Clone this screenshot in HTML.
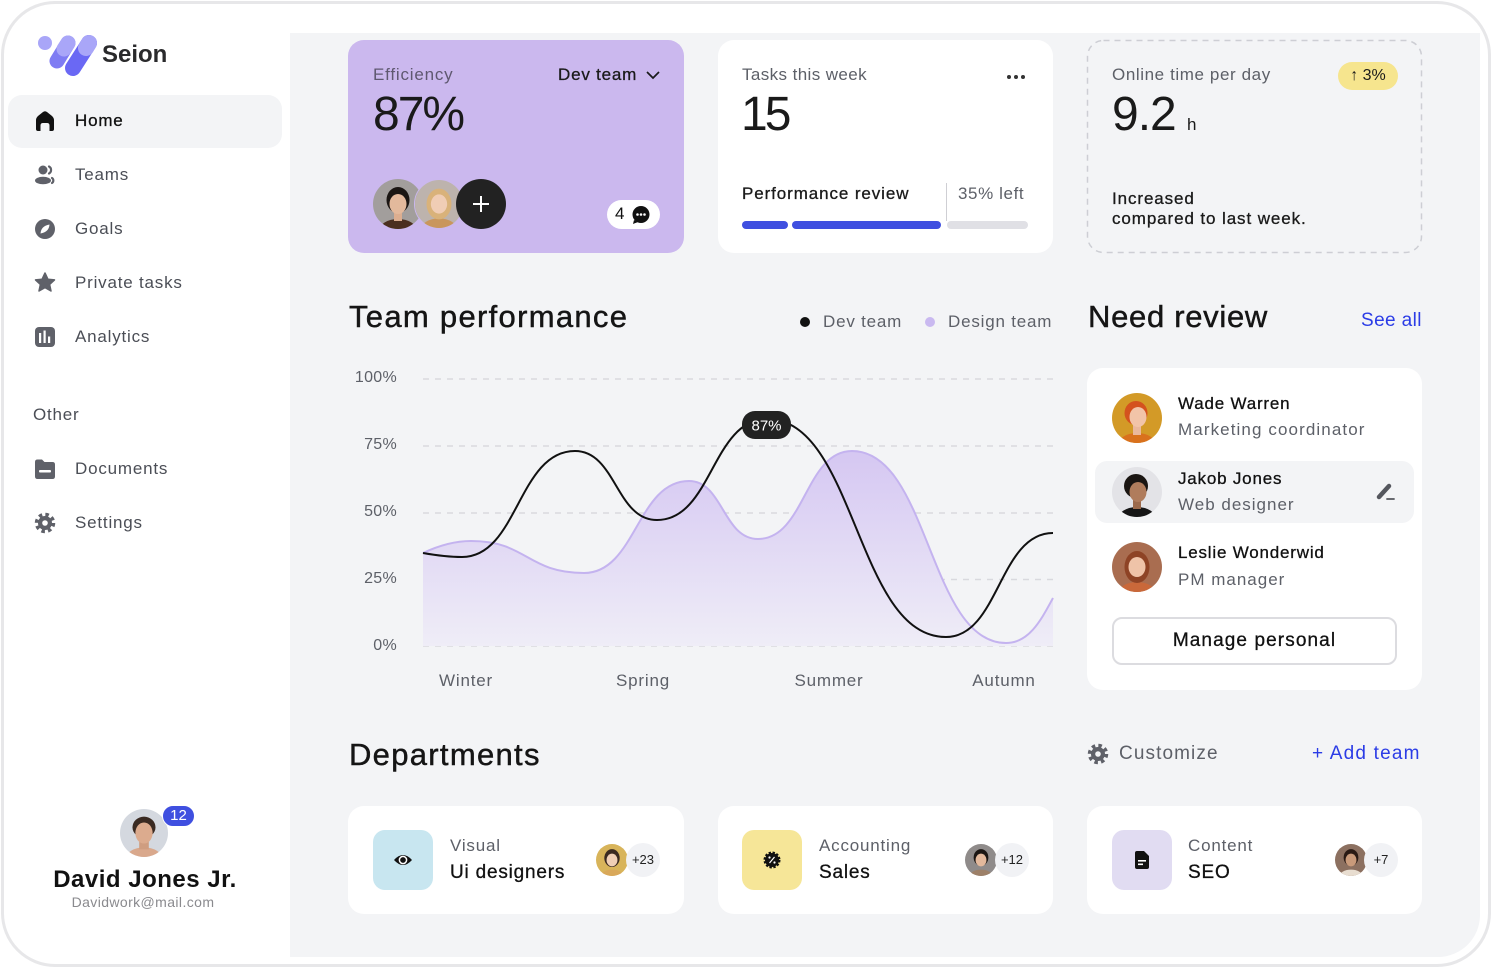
<!DOCTYPE html>
<html><head><meta charset="utf-8"><style>
*{margin:0;padding:0;box-sizing:border-box}
html,body{width:1493px;height:969px;overflow:hidden;background:#fff}
body{position:relative;font-family:"Liberation Sans",sans-serif;color:#1c1c1e}
.a{position:absolute}
.t{position:absolute;white-space:nowrap;line-height:20px;font-size:17px;letter-spacing:0.8px}
.card{position:absolute;background:#fff;border-radius:16px}
.av{position:absolute;border-radius:50%;overflow:hidden}
.av svg{display:block}
.nav{color:#4b4e56}
.g{color:#5d6068}
.m{-webkit-text-stroke:0.3px currentColor}
.h{font-size:31px;line-height:40px;letter-spacing:1.1px;color:#151515;-webkit-text-stroke:0.45px #151515}
.big{font-size:48px;line-height:50px;letter-spacing:-2px;color:#1a1a1a}
.blue{color:#2b3ce6}
</style></head><body>

<!-- device frame -->
<div class="a" style="left:1px;top:1px;width:1490px;height:966px;border:3px solid #e7e7e9;border-radius:54px"></div>
<div class="a" style="left:290px;top:33px;width:1190px;height:924px;background:#f3f4f6;border-bottom-right-radius:42px"></div>

<!-- logo -->
<svg class="a" style="left:30px;top:30px" width="75" height="50" viewBox="30 30 75 50">
  <circle cx="45" cy="43" r="7" fill="#a9a6f8"/>
  <line x1="68" y1="43" x2="57" y2="61" stroke="#7f7cf3" stroke-width="15" stroke-linecap="round"/>
  <line x1="68" y1="43" x2="64" y2="49" stroke="#a9a6f8" stroke-width="15" stroke-linecap="round"/>
  <line x1="89" y1="43" x2="73" y2="68" stroke="#6a68f4" stroke-width="16" stroke-linecap="round"/>
  <line x1="89" y1="43" x2="86" y2="48" stroke="#a9a6f8" stroke-width="16" stroke-linecap="round"/>
</svg>
<div class="t" style="left:102px;top:41px;font-size:24px;line-height:28px;font-weight:bold;color:#2a2a2c;letter-spacing:0px">Seion</div>

<!-- nav -->
<div class="a" style="left:8px;top:95px;width:274px;height:53px;background:#f3f4f6;border-radius:14px"></div>
<svg class="a" style="left:0;top:0" width="290" height="560" viewBox="0 0 290 560">
  <path d="M36 120 Q36 118 38 116 L43 112 Q45 110.5 47 112 L52 116 Q54 118 54 120 L54 129 Q54 131 52 131 L49.5 131 L49.5 125.5 Q49.5 123 47 123 L43 123 Q40.5 123 40.5 125.5 L40.5 131 L38 131 Q36 131 36 129 Z" fill="#111"/>
  <circle cx="43" cy="170" r="4.5" fill="#5f6169"/>
  <ellipse cx="43" cy="180.5" rx="8" ry="3.8" fill="#5f6169"/>
  <path d="M49 166.5 A4 4 0 0 1 49 173.5" fill="none" stroke="#5f6169" stroke-width="2.2" stroke-linecap="round"/>
  <path d="M52 178 A3 3 0 0 1 52 183" fill="none" stroke="#5f6169" stroke-width="2.2" stroke-linecap="round"/>
  <circle cx="45" cy="229" r="10" fill="#5f6169"/>
  <path d="M40.5 233.5 Q41 226 49.5 224.5 Q49 232 40.5 233.5 Z" fill="#fff"/>
  <polygon points="45,273 47.9,279.2 54.5,279.9 49.6,284.4 51,291 45,287.6 39,291 40.4,284.4 35.5,279.9 42.1,279.2" fill="#5f6169" stroke="#5f6169" stroke-width="1.5" stroke-linejoin="round"/>
  <rect x="35" y="327" width="20" height="20" rx="4" fill="#5f6169"/>
  <rect x="39" y="333" width="2.2" height="10" fill="#fff"/>
  <rect x="43.5" y="330.5" width="2.2" height="12.5" fill="#fff"/>
  <rect x="48" y="336.5" width="2.2" height="6.5" fill="#fff"/>
  <path d="M35 462 Q35 459.5 37.5 459.5 L42 459.5 L44.5 462 L52.5 462 Q55 462 55 464.5 L55 476.5 Q55 479 52.5 479 L37.5 479 Q35 479 35 476.5 Z" fill="#5f6169"/>
  <rect x="39" y="470" width="12" height="2.5" rx="1" fill="#fff"/>
  <circle cx="45" cy="523" r="8" fill="none" stroke="#5f6169" stroke-width="4.5" stroke-dasharray="3.3 3"/>
  <circle cx="45" cy="523" r="7" fill="#5f6169"/>
  <circle cx="45" cy="523" r="2.8" fill="#fff"/>
</svg>
<div class="t m" style="left:75px;top:111px;color:#111">Home</div>
<div class="t nav" style="left:75px;top:165px">Teams</div>
<div class="t nav" style="left:75px;top:219px">Goals</div>
<div class="t nav" style="left:75px;top:273px">Private tasks</div>
<div class="t nav" style="left:75px;top:327px">Analytics</div>
<div class="t nav" style="left:33px;top:405px">Other</div>
<div class="t nav" style="left:75px;top:459px">Documents</div>
<div class="t nav" style="left:75px;top:513px">Settings</div>

<!-- profile -->
<div class="av" style="left:120px;top:809px;width:48px;height:48px"><svg width="48" height="48" viewBox="0 0 50 50"><rect width="50" height="50" fill="#d4d8df"/><ellipse cx="25" cy="52" rx="19" ry="12" fill="#d9a88c"/><rect x="20" y="30" width="10" height="12" fill="#cf9d80"/><ellipse cx="25" cy="19" rx="12" ry="11" fill="#3a2a22"/><ellipse cx="25" cy="25" rx="9" ry="11" fill="#dcab8e"/></svg></div>
<div class="a" style="left:162px;top:805px;width:33px;height:22px;background:#3f4fe0;border-radius:11px;border:1.5px solid #fff;color:#fff;font-size:15px;line-height:19px;text-align:center">12</div>
<div class="t" style="left:0;width:290px;text-align:center;top:865px;font-size:24px;line-height:30px;font-weight:bold;color:#111;letter-spacing:0.5px">David Jones Jr.</div>
<div class="t" style="left:0;width:286px;text-align:center;top:893px;font-size:14px;line-height:18px;color:#8a8a8e;letter-spacing:0.4px">Davidwork@mail.com</div>

<!-- Card 1 efficiency -->
<div class="card" style="left:348px;top:40px;width:336px;height:213px;background:#cbb8ee"></div>
<div class="t" style="left:373px;top:65px;color:#5f5870">Efficiency</div>
<div class="t m" style="left:558px;top:65px;color:#1a1a1a">Dev team</div>
<svg class="a" style="left:645px;top:69px" width="16" height="12"><polyline points="2,3 8,9 14,3" fill="none" stroke="#1a1a1a" stroke-width="1.7"/></svg>
<div class="t big" style="left:373px;top:90px">87%</div>
<div class="av" style="left:373px;top:179px;width:50px;height:50px"><svg width="50" height="50" viewBox="0 0 50 50"><rect width="50" height="50" fill="#a29e9c"/><ellipse cx="25" cy="52" rx="19" ry="12" fill="#4b2f1f"/><rect x="21" y="30" width="8" height="12" fill="#dcae90"/><ellipse cx="25" cy="21" rx="11.5" ry="13" fill="#1b1613"/><ellipse cx="25" cy="25" rx="8.5" ry="10" fill="#e3b99c"/></svg></div>
<div class="av" style="left:414px;top:179px;width:50px;height:50px;border:1px solid #cbb8ee"><svg width="48" height="48" viewBox="0 0 50 50"><rect width="50" height="50" fill="#bdb3ad"/><ellipse cx="25" cy="52" rx="19" ry="12" fill="#c9965c"/><ellipse cx="25" cy="25" rx="13" ry="16" fill="#d9b27a"/><ellipse cx="25" cy="25" rx="8.5" ry="10" fill="#f0cdb5"/></svg></div>
<div class="a" style="left:456px;top:179px;width:50px;height:50px;border-radius:50%;background:#222"></div>
<svg class="a" style="left:471px;top:194px" width="20" height="20"><line x1="10" y1="2" x2="10" y2="18" stroke="#fff" stroke-width="2"/><line x1="2" y1="10" x2="18" y2="10" stroke="#fff" stroke-width="2"/></svg>
<div class="a" style="left:607px;top:200px;width:53px;height:29px;background:#fff;border-radius:15px"></div>
<div class="t" style="left:615px;top:204px;color:#111">4</div>
<svg class="a" style="left:631px;top:205px" width="20" height="20"><circle cx="10" cy="9.5" r="8.5" fill="#111"/><path d="M3 15 L2 19 L7 17 Z" fill="#111"/><circle cx="6.5" cy="9.5" r="1.3" fill="#fff"/><circle cx="10" cy="9.5" r="1.3" fill="#fff"/><circle cx="13.5" cy="9.5" r="1.3" fill="#fff"/></svg>

<!-- Card 2 tasks -->
<div class="card" style="left:718px;top:40px;width:335px;height:213px"></div>
<div class="t g" style="left:742px;top:65px;letter-spacing:0.4px">Tasks this week</div>
<svg class="a" style="left:1004px;top:72px" width="26" height="10"><circle cx="5" cy="5" r="2" fill="#333"/><circle cx="12" cy="5" r="2" fill="#333"/><circle cx="19" cy="5" r="2" fill="#333"/></svg>
<div class="t big" style="left:741px;top:90px;letter-spacing:-3px">15</div>
<div class="t m" style="left:742px;top:184px;color:#1a1a1a;letter-spacing:0.9px">Performance review</div>
<div class="a" style="left:946px;top:183px;width:1px;height:38px;background:#cfcfd4"></div>
<div class="t g" style="left:958px;top:184px;letter-spacing:0.6px">35% left</div>
<div class="a" style="left:742px;top:221px;width:46px;height:8px;background:#3f4fe0;border-radius:4px"></div>
<div class="a" style="left:792px;top:221px;width:149px;height:8px;background:#3f4fe0;border-radius:4px"></div>
<div class="a" style="left:947px;top:221px;width:81px;height:8px;background:#e0e0e5;border-radius:4px"></div>

<!-- Card 3 online -->
<svg class="a" style="left:1086px;top:39px" width="338" height="216"><rect x="1.5" y="1.5" width="334" height="212" rx="16" fill="none" stroke="#cdced4" stroke-width="1.5" stroke-dasharray="6 5"/></svg>
<div class="t g" style="left:1112px;top:65px;letter-spacing:0.6px">Online time per day</div>
<div class="a" style="left:1338px;top:62px;width:60px;height:28px;background:#f6e58e;border-radius:14px;font-size:16px;line-height:28px;text-align:center;color:#1a1a1a">↑ 3%</div>
<div class="t big" style="left:1112px;top:90px;letter-spacing:-1px">9.2</div>
<div class="t" style="left:1187px;top:115px;color:#1a1a1a">h</div>
<div class="t m" style="left:1112px;top:189px;color:#1a1a1a;letter-spacing:0.9px">Increased</div>
<div class="t m" style="left:1112px;top:209px;color:#1a1a1a;letter-spacing:0.9px">compared to last week.</div>

<!-- Team performance -->
<div class="t h" style="left:349px;top:297px;letter-spacing:1.3px">Team performance</div>
<svg class="a" style="left:798px;top:315px" width="140" height="14"><circle cx="7" cy="7" r="5" fill="#111"/><circle cx="132" cy="7" r="5" fill="#c9b9f0"/></svg>
<div class="t g" style="left:823px;top:312px">Dev team</div>
<div class="t g" style="left:948px;top:312px;letter-spacing:0.8px">Design team</div>

<div class="t g" style="left:330px;width:67px;text-align:right;top:368px;font-size:16px;letter-spacing:0.3px">100%</div>
<div class="t g" style="left:330px;width:67px;text-align:right;top:435px;font-size:16px;letter-spacing:0.3px">75%</div>
<div class="t g" style="left:330px;width:67px;text-align:right;top:502px;font-size:16px;letter-spacing:0.3px">50%</div>
<div class="t g" style="left:330px;width:67px;text-align:right;top:569px;font-size:16px;letter-spacing:0.3px">25%</div>
<div class="t g" style="left:330px;width:67px;text-align:right;top:636px;font-size:16px;letter-spacing:0.3px">0%</div>

<svg class="a" style="left:0;top:0" width="1493" height="969" viewBox="0 0 1493 969">
  <defs>
    <linearGradient id="fg" x1="0" y1="451" x2="0" y2="646" gradientUnits="userSpaceOnUse">
      <stop offset="0" stop-color="#d5c7f2"/>
      <stop offset="1" stop-color="#efedf7"/>
    </linearGradient>
  </defs>
  <g stroke="#d9d9de" stroke-width="1.5" stroke-dasharray="6 6">
    <line x1="423" y1="379" x2="1053" y2="379"/>
    <line x1="423" y1="446" x2="1053" y2="446"/>
    <line x1="423" y1="513" x2="1053" y2="513"/>
    <line x1="423" y1="579.5" x2="1053" y2="579.5"/>
    <line x1="423" y1="646" x2="1053" y2="646"/>
  </g>
  <path d="M423 553 C440 545 455 541 471 541 C527 541 527 573 584 573 C636 573 637 481 689 481 C723 481 723 539 758 539 C805 539 805 451 852 451 C929 451 929 643 1006 643 C1030 643 1042 618 1053 598 L1053 646 L423 646 Z" fill="url(#fg)"/>
  <path d="M423 553 C440 545 455 541 471 541 C527 541 527 573 584 573 C636 573 637 481 689 481 C723 481 723 539 758 539 C805 539 805 451 852 451 C929 451 929 643 1006 643 C1030 643 1042 618 1053 598" fill="none" stroke="#c4b3ef" stroke-width="2"/>
  <path d="M423 553 C440 556 450 557 462 557 C518 557 518 451 575 451 C616 451 616 520 657 520 C712 520 712 419 767 419 C856 419 856 637 946 637 C999 637 999 533 1053 533" fill="none" stroke="#111" stroke-width="2"/>
  <rect x="742" y="411" width="49" height="28" rx="13" fill="#222"/>
  <text x="766.5" y="430.5" text-anchor="middle" font-family="Liberation Sans, sans-serif" font-size="15" fill="#fff">87%</text>
</svg>

<div class="t g" style="left:416px;width:100px;text-align:center;top:671px">Winter</div>
<div class="t g" style="left:593px;width:100px;text-align:center;top:671px">Spring</div>
<div class="t g" style="left:779px;width:100px;text-align:center;top:671px">Summer</div>
<div class="t g" style="left:954px;width:100px;text-align:center;top:671px">Autumn</div>

<!-- Need review -->
<div class="t h" style="left:1088px;top:297px;letter-spacing:0.7px">Need review</div>
<div class="t blue" style="left:1361px;top:310px;font-size:19px;line-height:22px;letter-spacing:0.4px">See all</div>
<div class="card" style="left:1087px;top:368px;width:335px;height:322px"></div>
<div class="a" style="left:1095px;top:461px;width:319px;height:62px;background:#f3f4f6;border-radius:12px"></div>
<div class="av" style="left:1112px;top:393px;width:50px;height:50px"><svg width="50" height="50" viewBox="0 0 50 50"><rect width="50" height="50" fill="#d39a27"/><ellipse cx="25" cy="52" rx="19" ry="12" fill="#d9711d"/><rect x="21" y="30" width="8" height="12" fill="#eab89c"/><ellipse cx="24" cy="20" rx="11.5" ry="12" fill="#d4521e"/><ellipse cx="26" cy="24" rx="8.5" ry="10" fill="#f2c4a8"/></svg></div>
<div class="av" style="left:1112px;top:467px;width:50px;height:50px"><svg width="50" height="50" viewBox="0 0 50 50"><rect width="50" height="50" fill="#e3e3e7"/><ellipse cx="25" cy="52" rx="19" ry="12" fill="#161616"/><rect x="21" y="30" width="8" height="12" fill="#9c6a4c"/><ellipse cx="24" cy="19" rx="12" ry="12" fill="#1a1512"/><ellipse cx="26" cy="25" rx="8.5" ry="10" fill="#b07c5c"/></svg></div>
<div class="av" style="left:1112px;top:542px;width:50px;height:50px"><svg width="50" height="50" viewBox="0 0 50 50"><rect width="50" height="50" fill="#a96d50"/><ellipse cx="25" cy="52" rx="19" ry="12" fill="#c9683a"/><ellipse cx="25" cy="25" rx="12.5" ry="16" fill="#8e4325"/><ellipse cx="25" cy="25" rx="8.5" ry="10" fill="#efc3a8"/></svg></div>
<div class="t m" style="left:1178px;top:394px;color:#111">Wade Warren</div>
<div class="t g" style="left:1178px;top:420px;letter-spacing:1.1px">Marketing coordinator</div>
<div class="t m" style="left:1178px;top:469px;color:#111">Jakob Jones</div>
<div class="t g" style="left:1178px;top:495px;letter-spacing:1px">Web designer</div>
<div class="t m" style="left:1178px;top:543px;color:#111">Leslie Wonderwid</div>
<div class="t g" style="left:1178px;top:570px;letter-spacing:1px">PM manager</div>
<svg class="a" style="left:1374px;top:481px" width="24" height="22"><line x1="5" y1="16" x2="15" y2="5" stroke="#55575e" stroke-width="4.5" stroke-linecap="round"/><line x1="13" y1="18" x2="20" y2="18" stroke="#55575e" stroke-width="1.8" stroke-linecap="round"/></svg>
<div class="a m" style="left:1112px;top:617px;width:285px;height:48px;border:2px solid #dcdce0;border-radius:10px;font-size:19px;line-height:44px;text-align:center;color:#111;letter-spacing:1.1px">Manage personal</div>

<!-- Departments -->
<div class="t h" style="left:349px;top:735px;letter-spacing:1.3px">Departments</div>
<svg class="a" style="left:1087px;top:743px" width="22" height="22"><circle cx="11" cy="11" r="8" fill="none" stroke="#5f6169" stroke-width="4.5" stroke-dasharray="3.3 3"/><circle cx="11" cy="11" r="7" fill="#5f6169"/><circle cx="11" cy="11" r="2.8" fill="#f3f4f6"/></svg>
<div class="t g" style="left:1119px;top:742px;font-size:19px;line-height:24px;letter-spacing:1.1px">Customize</div>
<div class="t blue" style="left:1312px;top:742px;font-size:19px;line-height:24px;letter-spacing:1.2px">+ Add team</div>

<div class="card" style="left:348px;top:806px;width:336px;height:108px"></div>
<div class="card" style="left:718px;top:806px;width:335px;height:108px"></div>
<div class="card" style="left:1087px;top:806px;width:335px;height:108px"></div>

<div class="a" style="left:373px;top:830px;width:60px;height:60px;border-radius:12px;background:#c8e6f0"></div>
<svg class="a" style="left:393px;top:850px" width="20" height="20"><path d="M1 10 Q10 0 19 10 Q10 20 1 10 Z" fill="#111"/><circle cx="10" cy="10" r="3.6" fill="none" stroke="#fff" stroke-width="1.5"/></svg>
<div class="a" style="left:742px;top:830px;width:60px;height:60px;border-radius:12px;background:#f6e698"></div>
<svg class="a" style="left:762px;top:850px" width="20" height="20"><circle cx="10" cy="10" r="7" fill="#111" stroke="#111" stroke-width="3" stroke-dasharray="2.2 1.5"/><circle cx="7.5" cy="7.5" r="1.1" fill="#fff"/><circle cx="12.5" cy="12.5" r="1.1" fill="#fff"/><line x1="12.5" y1="7" x2="7.5" y2="13" stroke="#fff" stroke-width="1.2"/></svg>
<div class="a" style="left:1112px;top:830px;width:60px;height:60px;border-radius:12px;background:#e1dcf2"></div>
<svg class="a" style="left:1132px;top:850px" width="20" height="20"><path d="M3 3 Q3 1 5 1 L12 1 L17 6 L17 17 Q17 19 15 19 L5 19 Q3 19 3 17 Z" fill="#111"/><rect x="6" y="10" width="8" height="1.6" fill="#fff"/><rect x="6" y="13.5" width="5" height="1.6" fill="#fff"/></svg>

<div class="t g" style="left:450px;top:836px">Visual</div>
<div class="t m" style="left:450px;top:862px;font-size:19px;line-height:22px;color:#111;letter-spacing:0.8px">Ui designers</div>
<div class="t g" style="left:819px;top:836px">Accounting</div>
<div class="t m" style="left:819px;top:862px;font-size:19px;line-height:22px;color:#111;letter-spacing:0.8px">Sales</div>
<div class="t g" style="left:1188px;top:836px">Content</div>
<div class="t m" style="left:1188px;top:862px;font-size:19px;line-height:22px;color:#111;letter-spacing:0.8px">SEO</div>

<div class="av" style="left:596px;top:844px;width:32px;height:32px"><svg width="32" height="32" viewBox="0 0 50 50"><rect width="50" height="50" fill="#d8b45a"/><ellipse cx="25" cy="52" rx="19" ry="12" fill="#d9a85a"/><ellipse cx="25" cy="22" rx="12" ry="14" fill="#3b2a20"/><ellipse cx="25" cy="25" rx="8.5" ry="10" fill="#f0cfb5"/></svg></div>
<div class="a" style="left:626px;top:843px;width:34px;height:34px;border-radius:50%;background:#f1f2f5;font-size:13px;line-height:34px;text-align:center;color:#222">+23</div>
<div class="av" style="left:965px;top:844px;width:32px;height:32px"><svg width="32" height="32" viewBox="0 0 50 50"><rect width="50" height="50" fill="#8f8b8a"/><ellipse cx="25" cy="52" rx="19" ry="12" fill="#9d8068"/><ellipse cx="25" cy="21" rx="11.5" ry="13" fill="#1b1613"/><ellipse cx="25" cy="25" rx="8.5" ry="10" fill="#e3b99c"/></svg></div>
<div class="a" style="left:995px;top:843px;width:34px;height:34px;border-radius:50%;background:#f1f2f5;font-size:13px;line-height:34px;text-align:center;color:#222">+12</div>
<div class="av" style="left:1335px;top:844px;width:32px;height:32px"><svg width="32" height="32" viewBox="0 0 50 50"><rect width="50" height="50" fill="#8c7060"/><ellipse cx="25" cy="52" rx="19" ry="12" fill="#e8ddd0"/><ellipse cx="25" cy="21" rx="11.5" ry="13" fill="#2a1a14"/><ellipse cx="25" cy="25" rx="8.5" ry="10" fill="#c99a7a"/></svg></div>
<div class="a" style="left:1364px;top:843px;width:34px;height:34px;border-radius:50%;background:#f1f2f5;font-size:13px;line-height:34px;text-align:center;color:#222">+7</div>

</body></html>
